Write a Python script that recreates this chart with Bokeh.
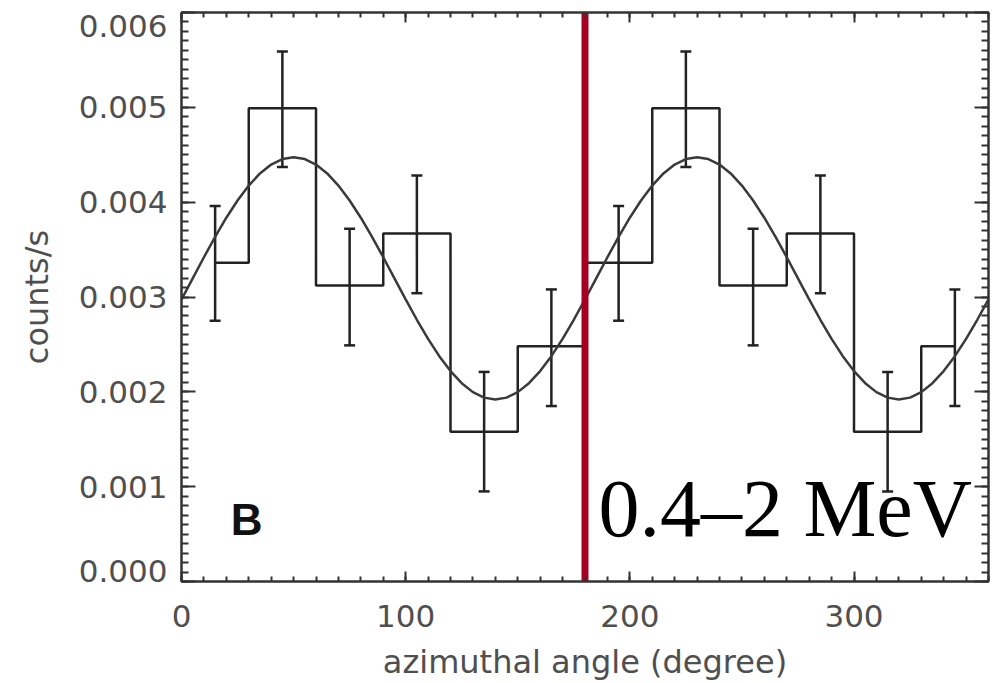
from bokeh.plotting import figure
from bokeh.models import (Range1d, LinearAxis, SingleIntervalTicker, CustomJSTickFormatter,
                          Whisker, TeeHead, ColumnDataSource, Label)
from bokeh.embed import file_html
from bokeh.resources import INLINE

# Binned azimuthal distribution (0–180 deg shown twice over 0–360 deg)
bin_angle = [15, 45, 75, 105, 135, 165, 195, 225, 255, 285, 315, 345]
bin_counts = [0.00336, 0.00499, 0.00312, 0.00367, 0.00158, 0.00248,
              0.00336, 0.00499, 0.00312, 0.00367, 0.00158, 0.00248]
err_upper = [0.00396, 0.00559, 0.00372, 0.00428, 0.00221, 0.00308,
             0.00396, 0.00559, 0.00372, 0.00428, 0.00221, 0.00308]
err_lower = [0.00275, 0.00437, 0.00249, 0.00304, 0.00095, 0.00185,
             0.00275, 0.00437, 0.00249, 0.00304, 0.00095, 0.00185]

# Modulation curve sampled every 5 deg over one 180-deg period
curve_counts_half = [0.002975, 0.003197, 0.003419, 0.003634, 0.003836, 0.004018, 0.004175,
                     0.004303, 0.004397, 0.004455, 0.004474, 0.004455, 0.004397, 0.004303,
                     0.004175, 0.004018, 0.003836, 0.003634, 0.003419, 0.003197, 0.002975,
                     0.002760, 0.002558, 0.002376, 0.002219, 0.002091, 0.001997, 0.001939,
                     0.001920, 0.001939, 0.001997, 0.002091, 0.002219, 0.002376, 0.002558,
                     0.002760]
curve_counts = curve_counts_half + curve_counts_half + [curve_counts_half[0]]
curve_angle = [5 * i for i in range(len(curve_counts))]

boundary_angle = [180]
energy_label = "0.4\u20132 MeV"
panel_label = "B"

TICK_FONT = "DejaVu Sans"
GREY = "#4f4f4f"
INK = "#222222"

p = figure(width=998, height=683, x_range=Range1d(0, 360), y_range=Range1d(0, 0.006),
           output_backend="svg", toolbar_location=None,
           min_border_left=181, min_border_right=10, min_border_top=12, min_border_bottom=100,
           x_axis_label="azimuthal angle (degree)", y_axis_label="counts/s")
p.grid.visible = False
p.outline_line_color = "#333333"
p.outline_line_width = 2
p.background_fill_color = "white"
p.border_fill_color = "white"

blank = CustomJSTickFormatter(code="return ''")
# End labels are nudged inward (down at the top, up at the bottom) with empty lines
y_fmt = CustomJSTickFormatter(code="""
    const s = Math.abs(tick).toFixed(3);
    if (tick > 0.00595) return '\\n' + s;
    if (tick < 0.00005) return s + '\\n\\n\\n';
    return s;
""")


def style_axis(ax, major_len, minor_len):
    ax.major_tick_in = major_len
    ax.major_tick_out = 0
    ax.minor_tick_in = minor_len
    ax.minor_tick_out = 0
    ax.major_tick_line_color = "#333333"
    ax.minor_tick_line_color = "#333333"
    ax.major_tick_line_width = 2
    ax.minor_tick_line_width = 2
    ax.axis_line_color = "#333333"
    ax.axis_line_width = 2


xa = p.xaxis[0]
xa.ticker = SingleIntervalTicker(interval=100, num_minor_ticks=10)
style_axis(xa, 10, 5)
xa.major_label_text_font = TICK_FONT
xa.major_label_text_font_size = "31px"
xa.major_label_text_color = GREY
xa.major_label_text_line_height = 0.8
xa.major_label_standoff = 23
xa.axis_label_text_font = TICK_FONT
xa.axis_label_text_font_size = "32px"
xa.axis_label_text_font_style = "normal"
xa.axis_label_text_color = GREY
xa.axis_label_text_line_height = 0.8
xa.axis_label_standoff = 13

ya = p.yaxis[0]
ya.ticker = SingleIntervalTicker(interval=0.001, num_minor_ticks=10)
ya.formatter = y_fmt
style_axis(ya, 14, 7)
ya.major_label_text_font = TICK_FONT
ya.major_label_text_font_size = "31px"
ya.major_label_text_color = GREY
ya.major_label_text_line_height = 0.2
ya.major_label_standoff = 14
ya.axis_label_text_font = TICK_FONT
ya.axis_label_text_font_size = "32px"
ya.axis_label_text_font_style = "normal"
ya.axis_label_text_color = GREY
ya.axis_label_standoff = 20

top = LinearAxis(ticker=SingleIntervalTicker(interval=100, num_minor_ticks=10), formatter=blank)
style_axis(top, 10, 5)
top.major_label_standoff = 0
p.add_layout(top, "above")
right = LinearAxis(ticker=SingleIntervalTicker(interval=0.001, num_minor_ticks=10), formatter=blank)
style_axis(right, 14, 7)
right.major_label_standoff = 0
p.add_layout(right, "right")

# Histogram steps
p.step(bin_angle, bin_counts, mode="center", line_color=INK, line_width=2.5)

# Error bars
src = ColumnDataSource(dict(x=bin_angle, upper=err_upper, lower=err_lower))
whisk = Whisker(source=src, base="x", upper="upper", lower="lower", dimension="height",
                line_color=INK, line_width=2.5,
                upper_head=TeeHead(size=11, line_color=INK, line_width=2.5),
                lower_head=TeeHead(size=11, line_color=INK, line_width=2.5))
p.add_layout(whisk)

# Fitted modulation curve
p.line(curve_angle, curve_counts, line_color="#3a3a3a", line_width=2.5)

# Boundary marker
p.segment(x0=boundary_angle, y0=[0.0], x1=boundary_angle, y1=[0.006],
          line_color="#a50021", line_width=7)

p.add_layout(Label(x=22, y=0.00065, text=panel_label, text_font="Liberation Sans",
                   text_font_style="bold", text_font_size="44px", text_color="#111111",
                   text_baseline="alphabetic"))
p.add_layout(Label(x=186, y=0.000775, text=energy_label, text_font="Liberation Serif",
                   text_font_size="82px", text_color="black", text_baseline="alphabetic"))

open("out.html", "w").write(file_html(p, INLINE))
